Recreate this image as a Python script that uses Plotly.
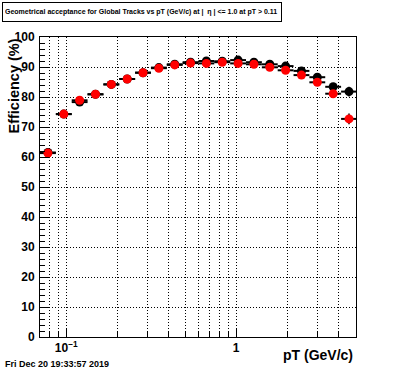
import plotly.graph_objects as go
import math

# ---- data ----
bin_edges = [0.0700, 0.0868, 0.1076, 0.1334, 0.1654, 0.2050, 0.2542, 0.3151,
             0.3906, 0.4842, 0.6003, 0.7437, 0.9224, 1.1434, 1.4173, 1.757,
             2.178, 2.700, 3.347, 4.150, 5.145]
eff_black = [61.5, 74.3, 78.3, 80.9, 84.2, 86.0, 88.1, 89.8, 90.9, 91.6,
             92.0, 91.9, 92.3, 91.6, 90.9, 90.3, 88.7, 86.6, 83.4, 81.8]
eff_red = [61.3, 74.3, 78.9, 80.9, 84.2, 86.0, 88.1, 89.6, 90.7, 91.3,
           91.2, 91.6, 91.2, 90.9, 89.9, 88.9, 87.3, 84.9, 81.1, 72.7]
err_black = [0.3, 0.3, 0.3, 0.3, 0.3, 0.3, 0.3, 0.3, 0.3, 0.3,
             0.3, 0.3, 0.3, 0.3, 0.4, 0.4, 0.5, 0.6, 0.9, 1.6]
err_red = [0.3, 0.3, 0.3, 0.3, 0.3, 0.3, 0.3, 0.3, 0.3, 0.3,
           0.3, 0.3, 0.3, 0.3, 0.4, 0.4, 0.5, 0.6, 0.9, 1.8]
x_major_ticks = [0.1, 1]
x_major_text = ["10<sup>\u22121</sup>", "1"]
x_minor_ticks = [0.08, 0.09, 0.2, 0.3, 0.4, 0.5, 0.6, 0.7, 0.8, 0.9, 2, 3, 4]
title_text = ("Geometrical acceptance for Global Tracks vs pT (GeV/c) at |\u00a0\u00a0"
              "\u03b7\u00a0| <= 1.0 at pT > 0.11")
date_text = "Fri Dec 20 19:33:57 2019"

lo = bin_edges[:-1]
hi = bin_edges[1:]
centers = [math.sqrt(a * b) for a, b in zip(lo, hi)]
xm = [c - a for c, a in zip(centers, lo)]
xp = [b - c for c, b in zip(centers, hi)]

W, H = 396, 372
L, R, T, B = 40, 40, 37, 35
PW, PH = W - L - R, H - T - B

def px(x):
    return (x - L) / PW

def py(y):
    return 1 - (y - T) / PH

FONT = "Liberation Sans, Arial, Helvetica, sans-serif"

fig = go.Figure()
for vals, errs, col in [(eff_black, err_black, "black"), (eff_red, err_red, "#ff0000")]:
    fig.add_trace(go.Scatter(
        x=centers, y=vals, mode="markers",
        marker=dict(symbol="circle", size=9, color=col, line=dict(width=0)),
        error_x=dict(type="data", symmetric=False, array=xp, arrayminus=xm,
                     color="black", thickness=2, width=0),
        error_y=dict(type="data", array=errs, color="black", thickness=1.5, width=0),
        showlegend=False, cliponaxis=True, hoverinfo="skip",
    ))

fig.update_xaxes(
    type="log", range=[math.log10(0.07), math.log10(5.08)],
    tickmode="array", tickvals=x_major_ticks, ticktext=x_major_text,
    ticks="inside", ticklen=9, tickcolor="black", tickwidth=1,
    tickfont=dict(family=FONT, size=12, color="black", weight="bold"),
    showgrid=True, gridcolor="black", gridwidth=1, griddash="1px,2px",
    minor=dict(tickmode="array", tickvals=x_minor_ticks, ticks="inside", ticklen=5,
               tickcolor="black", showgrid=True, gridcolor="black", gridwidth=1,
               griddash="1px,2px"),
    showline=True, linecolor="black", linewidth=1, mirror=True, zeroline=False,
)
fig.update_yaxes(
    range=[0, 100], tickmode="linear", tick0=0, dtick=10,
    ticks="inside", ticklen=9, tickcolor="black", tickwidth=1,
    tickfont=dict(family=FONT, size=12, color="black", weight="bold"),
    showgrid=True, gridcolor="black", gridwidth=1, griddash="1px,2px",
    minor=dict(dtick=2, ticks="inside", ticklen=5, tickcolor="black", showgrid=False),
    showline=True, linecolor="black", linewidth=1, mirror=True, zeroline=False,
    ticklabelstandoff=2,
)

annotations = [
    dict(text=title_text, xref="paper", yref="paper", x=px(2), y=py(2),
         xanchor="left", yanchor="top", showarrow=False, align="left",
         width=274, height=14, borderpad=2, bordercolor="black", borderwidth=1,
         bgcolor="white", font=dict(family=FONT, size=7.0, color="black", weight="bold")),
    dict(text="Efficiency (%)", xref="paper", yref="paper", x=px(13), y=1,
         xanchor="center", yanchor="top", textangle=-90, showarrow=False,
         font=dict(family=FONT, size=14.5, color="black", weight="bold")),
    dict(text="pT (GeV/c)", xref="paper", yref="paper", x=px(355), y=py(355),
         xanchor="right", yanchor="middle", showarrow=False,
         font=dict(family=FONT, size=14, color="black", weight="bold")),
    dict(text=date_text, xref="paper", yref="paper", x=px(3), y=py(364),
         xanchor="left", yanchor="middle", showarrow=False,
         font=dict(family=FONT, size=9, color="black", weight="bold")),
]

fig.update_layout(
    width=W, height=H, margin=dict(l=L, r=R, t=T, b=B, pad=0),
    paper_bgcolor="white", plot_bgcolor="white",
    annotations=annotations, showlegend=False, hovermode=False,
)

fig.write_html("out.html", config={"displayModeBar": False},
               post_script="document.body.style.margin='0px';document.body.style.padding='0px';")
